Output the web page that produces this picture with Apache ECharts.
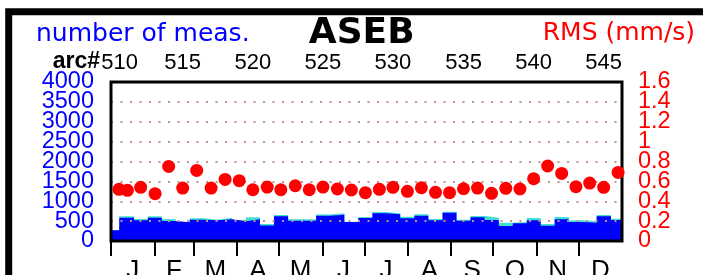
<!DOCTYPE html>
<html>
<head>
<meta charset="utf-8">
<title>ASEB</title>
<script src="https://cdn.jsdelivr.net/npm/echarts@6/dist/echarts.min.js"></script>
<style>
  html, body { margin: 0; padding: 0; background: #fff; }
  #chart { width: 703px; height: 275px; }
</style>
</head>
<body>
<div id="chart"></div>
<script>
// x axis is day of year (0..365)
const monthLabels = ['J', 'F', 'M', 'A', 'M', 'J', 'J', 'A', 'S', 'O', 'N', 'D']
const monthStartDays = [0, 31, 59, 90, 120, 151, 181, 212, 243, 273, 304, 334]
const monthMidDays = [15.5, 45, 74.5, 105, 135.5, 166, 196.5, 227.5, 258, 288.5, 319, 349.5]

// arc numbers on the top axis
const arcLabels = ['510', '515', '520', '525', '530', '535', '540', '545']
const arcTickDays = [6.2, 51.2, 101.3, 151.4, 201.4, 251.8, 301.9, 351.9]

// y tick labels (split in two sets so the tight labels are all kept)
const countTicksEven = [0, 1000, 2000, 3000, 4000]
const countTicksOdd = [500, 1500, 2500, 3500]
const rmsTicksEven = [0, 0.4, 0.8, 1.2, 1.6]
const rmsTicksOdd = [0.2, 0.6, 1, 1.4]

// RMS per arc (mm/s)
const rmsDays = [5.7, 11.7, 21.2, 31.5, 41.2, 51.2, 61.2, 71.5, 81.5, 91.6,
  101.3, 111.6, 121.3, 131.6, 141.6, 151.4, 161.7, 171.7, 181.7, 191.7,
  201.4, 211.7, 221.7, 231.8, 241.8, 251.8, 261.8, 271.8, 282.0, 292.1,
  301.9, 311.9, 321.9, 332.1, 341.9, 351.9, 362.2]
const rmsValues = [0.52, 0.51, 0.54, 0.476, 0.75, 0.533, 0.71, 0.533, 0.62, 0.607,
  0.516, 0.543, 0.516, 0.556, 0.516, 0.543, 0.523, 0.513, 0.486, 0.52,
  0.54, 0.50, 0.536, 0.49, 0.486, 0.526, 0.533, 0.48, 0.53, 0.523,
  0.627, 0.755, 0.68, 0.546, 0.583, 0.54, 0.69]

// number of measurements per arc bin (blue part, and total with cyan on top)
const binStartDays = [0, 5.9, 16.5, 26.3, 36.3, 46.2, 56.2, 66.4, 76.5, 86.5,
  96.4, 106.4, 116.4, 126.5, 136.6, 146.5, 156.5, 166.7, 176.7, 186.7,
  196.6, 206.6, 216.7, 226.7, 236.8, 246.8, 256.8, 266.8, 277.0, 287.0,
  297.0, 306.9, 316.9, 327.0, 337.0, 346.9, 357.1]
const blueCounts = [269, 586, 521, 586, 503, 470, 536, 521, 546, 500,
  546, 393, 621, 511, 511, 637, 662, 478, 579, 697,
  671, 571, 637, 521, 712, 511, 596, 528, 377, 445,
  521, 385, 546, 478, 461, 621, 528]
const totalCounts = [275, 621, 553, 621, 553, 478, 571, 536, 586, 530,
  596, 425, 654, 546, 546, 665, 700, 486, 604, 730,
  697, 612, 671, 553, 737, 536, 629, 586, 461, 478,
  579, 428, 604, 521, 495, 654, 562]

const yearEnd = 365

function stepData(values) {
  const pts = binStartDays.map((d, i) => [d, values[i]])
  pts.push([yearEnd, values[values.length - 1]])
  return pts
}

const numFont = 'Liberation Sans'

function countAxis(labels, withGrid) {
  return {
    type: 'value',
    position: 'left',
    min: 0,
    max: 4000,
    interval: 500,
    z: 4,
    axisLine: { show: false },
    axisTick: { show: false },
    axisLabel: {
      customValues: labels,
      color: '#0000ff',
      fontSize: 23.5,
      fontFamily: numFont,
      margin: 17,
      formatter: (v) => String(v)
    },
    splitLine: {
      show: withGrid,
      lineStyle: { color: '#c09292', width: 2, type: [2, 7.5] }
    }
  }
}

function rmsAxis(labels) {
  return {
    type: 'value',
    position: 'right',
    min: 0,
    max: 1.6,
    interval: 0.2,
    axisLine: { show: false },
    axisTick: { show: false },
    axisLabel: {
      customValues: labels,
      color: '#ff0000',
      fontSize: 23.5,
      fontFamily: numFont,
      margin: 16,
      formatter: (v) => String(Math.round(v * 10) / 10)
    },
    splitLine: { show: false }
  }
}

const chart = echarts.init(document.getElementById('chart'))

chart.setOption({
  animation: false,
  graphic: [
    {
      type: 'rect',
      shape: { x: 8.7, y: 11.7, width: 900, height: 500 },
      style: { fill: 'transparent', stroke: '#000', lineWidth: 7 }
    },
    {
      type: 'text', x: 36, y: 34.7,
      style: { text: 'number of meas.', fill: '#0000ff', font: '25px "DejaVu Sans"', textAlign: 'left', textVerticalAlign: 'middle' }
    },
    {
      type: 'text', x: 361.7, y: 33.2,
      style: { text: 'ASEB', fill: '#000', font: 'bold 36px "DejaVu Sans"', textAlign: 'center', textVerticalAlign: 'middle' }
    },
    {
      type: 'text', x: 542.7, y: 33,
      style: { text: 'RMS (mm/s)', fill: '#ff0000', font: '25px "DejaVu Sans"', textAlign: 'left', textVerticalAlign: 'middle' }
    },
    {
      type: 'text', x: 100, y: 62,
      style: { text: 'arc#', fill: '#000', font: 'bold 23px "Liberation Sans"', textAlign: 'right', textVerticalAlign: 'middle' }
    }
  ],
  grid: {
    left: 111,
    top: 82,
    right: 81,
    bottom: 34,
    containLabel: false,
    outerBoundsMode: 'none',
    show: true,
    borderColor: '#000',
    borderWidth: 3,
    z: 6
  },
  xAxis: [
    {
      type: 'value',
      position: 'bottom',
      min: 0,
      max: yearEnd,
      axisLine: { show: false },
      splitLine: { show: false },
      axisTick: {
        show: true,
        length: 15,
        customValues: monthStartDays,
        lineStyle: { color: '#000', width: 2 }
      },
      axisLabel: {
        customValues: monthMidDays,
        formatter: (v) => monthLabels[monthMidDays.indexOf(v)],
        margin: 17,
        color: '#000',
        fontSize: 26,
        fontFamily: numFont
      }
    },
    {
      type: 'value',
      position: 'top',
      min: 0,
      max: yearEnd,
      axisLine: { show: false },
      splitLine: { show: false },
      axisTick: {
        show: true,
        length: 14,
        customValues: arcTickDays,
        lineStyle: { color: '#000', width: 2 }
      },
      axisLabel: {
        customValues: arcTickDays,
        formatter: (v) => arcLabels[arcTickDays.indexOf(v)],
        margin: 8,
        color: '#000',
        fontSize: 22,
        fontFamily: numFont
      }
    }
  ],
  yAxis: [
    countAxis(countTicksEven, true),
    rmsAxis(rmsTicksEven),
    countAxis(countTicksOdd, false),
    rmsAxis(rmsTicksOdd)
  ],
  series: [
    {
      name: 'total',
      type: 'line',
      step: 'end',
      xAxisIndex: 0,
      yAxisIndex: 0,
      data: stepData(totalCounts),
      showSymbol: false,
      lineStyle: { width: 0 },
      areaStyle: { color: '#40e0d0', opacity: 1 },
      z: 1
    },
    {
      name: 'blue',
      type: 'line',
      step: 'end',
      xAxisIndex: 0,
      yAxisIndex: 0,
      data: stepData(blueCounts),
      showSymbol: false,
      lineStyle: { width: 0 },
      areaStyle: { color: '#0000ff', opacity: 1 },
      z: 2
    },
    {
      name: 'RMS',
      type: 'scatter',
      xAxisIndex: 0,
      yAxisIndex: 1,
      data: rmsDays.map((d, i) => [d, rmsValues[i]]),
      symbolSize: 13,
      itemStyle: { color: '#ff0000', opacity: 1 },
      z: 10
    }
  ]
})
</script>
</body>
</html>
